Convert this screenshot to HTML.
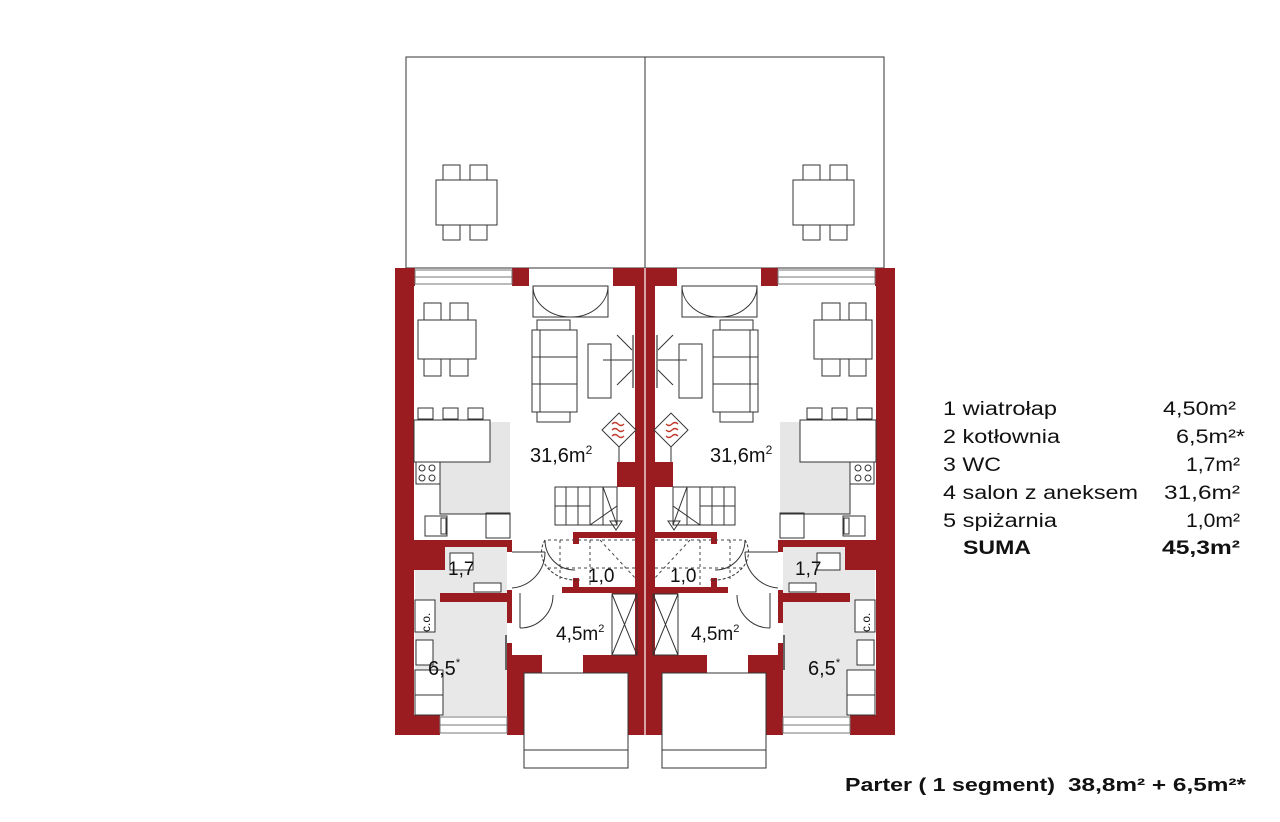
<!DOCTYPE html>
<html><head><meta charset="utf-8"><style>
html,body{margin:0;padding:0;background:#fff;width:1280px;height:822px;overflow:hidden}
svg{display:block}
text{font-family:"Liberation Sans",Arial,sans-serif;fill:#111}
</style></head><body>
<svg width="1280" height="822" viewBox="0 0 1280 822" xmlns="http://www.w3.org/2000/svg">
<defs>
<g id="half">
  <rect x="406" y="57" width="239" height="211" fill="#fff" stroke="#333" stroke-width="1"/>
  <g fill="#fff" stroke="#333" stroke-width="1">
    <rect x="443" y="165" width="17" height="15"/><rect x="470" y="165" width="17" height="15"/>
    <rect x="436" y="180" width="61" height="45"/>
    <rect x="443" y="225" width="17" height="15"/><rect x="470" y="225" width="17" height="15"/>
  </g>
  <rect x="412" y="285" width="225" height="450" fill="#fff"/>
  <rect x="440" y="422" width="70" height="92" fill="#e6e6e6"/>
  <rect x="415" y="570" width="92" height="146" fill="#e8e8e8"/>
  <rect x="445" y="547" width="62" height="46" fill="#e8e8e8"/>
  <g fill="#9b1c20">
    <rect x="395" y="268" width="19" height="467"/>
    <rect x="395" y="268" width="20" height="18"/>
    <rect x="512" y="268" width="17" height="18"/>
    <rect x="613" y="268" width="32" height="18"/>
    <rect x="635" y="268" width="10" height="467"/>
    <rect x="617" y="462" width="28" height="25"/>
    <rect x="573" y="532" width="64" height="6"/>
    <rect x="573" y="532" width="6" height="12"/>
    <rect x="562" y="587" width="75" height="6"/>
    <rect x="573" y="578" width="6" height="12"/>
    <rect x="412" y="540" width="100" height="7"/>
    <rect x="412" y="540" width="33" height="30"/>
    <rect x="440" y="593" width="72" height="9"/>
    <rect x="507" y="545" width="5" height="7"/>
    <rect x="507" y="590" width="5" height="33"/>
    <rect x="507" y="643" width="5" height="30"/>
    <rect x="507" y="655" width="35" height="18"/>
    <rect x="583" y="655" width="62" height="18"/>
    <rect x="612" y="590" width="25" height="4"/>
    <rect x="395" y="715" width="45" height="20"/>
    <rect x="507" y="673" width="18" height="62"/>
    <rect x="625" y="673" width="20" height="62"/>
  </g>
  <g fill="#fff" stroke="#777" stroke-width="1">
    <rect x="415" y="270" width="97" height="14"/>
    <line x1="415" y1="277" x2="512" y2="277"/>
    <rect x="440" y="717" width="67" height="16"/>
    <line x1="440" y1="725" x2="507" y2="725"/>
  </g>
  <g fill="none" stroke="#333" stroke-width="1">
    <rect x="533" y="286" width="75" height="31"/>
    <path d="M533 286 A37 31 0 0 0 570 317 M608 286 A37 31 0 0 1 570 317"/>
    <rect x="424" y="303" width="17" height="17" fill="#fff"/><rect x="450" y="303" width="18" height="17" fill="#fff"/>
    <rect x="418" y="320" width="58" height="39" fill="#fff"/>
    <rect x="424" y="359" width="17" height="17" fill="#fff"/><rect x="450" y="359" width="18" height="17" fill="#fff"/>
    <rect x="537" y="320" width="33" height="10"/>
    <rect x="532" y="330" width="45" height="82"/>
    <rect x="537" y="412" width="33" height="10"/>
    <line x1="532" y1="357" x2="577" y2="357"/><line x1="532" y1="384" x2="577" y2="384"/>
    <line x1="540" y1="330" x2="540" y2="412"/>
    <rect x="588" y="344" width="23" height="54"/>
    <line x1="603" y1="360" x2="632" y2="360"/>
    <path d="M617 335 L632 350 M617 385 L632 370"/>
    <line x1="633" y1="335" x2="633" y2="388" stroke="#888" stroke-width="2"/>
    <rect x="418" y="408" width="15" height="11" fill="#fff"/><rect x="443" y="408" width="15" height="11" fill="#fff"/><rect x="468" y="408" width="15" height="11" fill="#fff"/>
    <rect x="414" y="420" width="76" height="42" fill="#fff"/>
    <path d="M440 462 L440 514 L510 514"/>
    <rect x="416" y="462" width="24" height="22" fill="#fff"/>
    <circle cx="422" cy="468" r="3"/><circle cx="432" cy="468" r="3"/><circle cx="422" cy="478" r="3"/><circle cx="432" cy="478" r="3"/>
    <rect x="425" y="516" width="22" height="20"/><rect x="441" y="518" width="5" height="16"/>
    <rect x="486" y="513" width="24" height="25"/>
    <rect x="450" y="553" width="23" height="17" fill="#fff"/>
    <rect x="474" y="583" width="27" height="9" fill="#fff"/>
    <path d="M512 552 L545 552 M545 552 A36 36 0 0 1 512 588"/>
    <path d="M545 540 A30 30 0 0 0 575 570"/>
    <path d="M520 593 L520 628 M520 628 A33 33 0 0 0 553 595"/>
    <path d="M543 673 L543 705 A32 32 0 0 0 575 673"/>
    <rect x="415" y="600" width="20" height="32" fill="#fff"/>
    <rect x="416" y="640" width="17" height="25" fill="#fff"/>
    <rect x="415" y="670" width="28" height="25" fill="#fff"/><rect x="415" y="695" width="28" height="20" fill="#fff"/>
    <line x1="506" y1="635" x2="506" y2="670" stroke="#666" stroke-width="2"/>
    <rect x="612" y="594" width="25" height="61"/>
    <path d="M612 594 L637 655 M637 594 L612 655"/>
    <rect x="524" y="673" width="104" height="95" fill="#fff"/>
    <line x1="524" y1="750" x2="628" y2="750"/>
    <rect x="555" y="487" width="62" height="38"/>
    <line x1="555" y1="506" x2="590" y2="506"/>
    <line x1="566" y1="487" x2="566" y2="525"/><line x1="578" y1="487" x2="578" y2="525"/>
    <line x1="590" y1="487" x2="590" y2="525"/><line x1="603" y1="487" x2="603" y2="525"/>
    <path d="M603 487 L617 525 M590 525 L617 506"/>
    <path d="M610 521 L622 521 L616 530 Z"/>
    <path d="M545 540 A35 28 0 0 0 580 580" stroke-dasharray="3,2"/>
    <g stroke-dasharray="3,3" stroke="#444">
      <line x1="548" y1="540" x2="637" y2="540"/><line x1="548" y1="568" x2="637" y2="568"/>
      <line x1="560" y1="540" x2="560" y2="580"/><line x1="590" y1="540" x2="590" y2="585"/>
      <path d="M600 540 L637 580"/>
    </g>
  </g>
  <g transform="translate(619,430) rotate(45)">
    <rect x="-12" y="-12" width="24" height="24" fill="#fff" stroke="#333"/>
  </g>
  <path d="M612 424 q3 -3 6 0 q3 3 6 0 M612 430 q3 -3 6 0 q3 3 6 0 M612 436 q3 -3 6 0 q3 3 6 0" fill="none" stroke="#c0392b" stroke-width="1.3"/>
  <line x1="619" y1="447" x2="619" y2="462" stroke="#333"/>
</g>
</defs>
<use href="#half"/>
<use href="#half" transform="translate(1290,0) scale(-1,1)"/>
<line x1="645" y1="268" x2="645" y2="735" stroke="#fff" stroke-width="1.2"/>

<g font-size="20">
<text x="530" y="462">31,6m<tspan font-size="12" dy="-8">2</tspan></text>
<text x="710" y="462">31,6m<tspan font-size="12" dy="-8">2</tspan></text>
<text x="448" y="575" font-size="19">1,7</text>
<text x="795" y="575" font-size="19">1,7</text>
<text x="588" y="582" font-size="19">1,0</text>
<text x="670" y="582" font-size="19">1,0</text>
<text x="556" y="640" font-size="19">4,5m<tspan font-size="11" dy="-8">2</tspan></text>
<text x="691" y="640" font-size="19">4,5m<tspan font-size="11" dy="-8">2</tspan></text>
<text x="428" y="675">6,5<tspan font-size="11" dy="-9">*</tspan></text>
<text x="808" y="675">6,5<tspan font-size="11" dy="-9">*</tspan></text>
<text x="0" y="0" font-size="12" transform="translate(430,632) rotate(-90)">c.o.</text>
<text x="0" y="0" font-size="12" transform="translate(870,632) rotate(-90)">c.o.</text>
</g>

<g font-size="19">
<text x="943" y="415" textLength="114" lengthAdjust="spacingAndGlyphs">1 wiatrołap</text>
<text x="1163" y="415" textLength="73" lengthAdjust="spacingAndGlyphs">4,50m²</text>
<text x="943" y="443" textLength="117" lengthAdjust="spacingAndGlyphs">2 kotłownia</text>
<text x="1176" y="443" textLength="69" lengthAdjust="spacingAndGlyphs">6,5m²*</text>
<text x="943" y="471" textLength="58" lengthAdjust="spacingAndGlyphs">3 WC</text>
<text x="1186" y="471" textLength="54" lengthAdjust="spacingAndGlyphs">1,7m²</text>
<text x="943" y="499" textLength="195" lengthAdjust="spacingAndGlyphs">4 salon z aneksem</text>
<text x="1164" y="499" textLength="76" lengthAdjust="spacingAndGlyphs">31,6m²</text>
<text x="943" y="527" textLength="114" lengthAdjust="spacingAndGlyphs">5 spiżarnia</text>
<text x="1186" y="527" textLength="54" lengthAdjust="spacingAndGlyphs">1,0m²</text>
<text x="963" y="554" font-weight="bold" textLength="68" lengthAdjust="spacingAndGlyphs">SUMA</text>
<text x="1162" y="554" font-weight="bold" textLength="78" lengthAdjust="spacingAndGlyphs">45,3m²</text>
<text x="845" y="791" font-weight="bold" font-size="18" textLength="210" lengthAdjust="spacingAndGlyphs">Parter ( 1 segment)</text>
<text x="1068" y="791" font-weight="bold" font-size="18" textLength="178" lengthAdjust="spacingAndGlyphs">38,8m² + 6,5m²*</text>
</g>
</svg>
</body></html>
